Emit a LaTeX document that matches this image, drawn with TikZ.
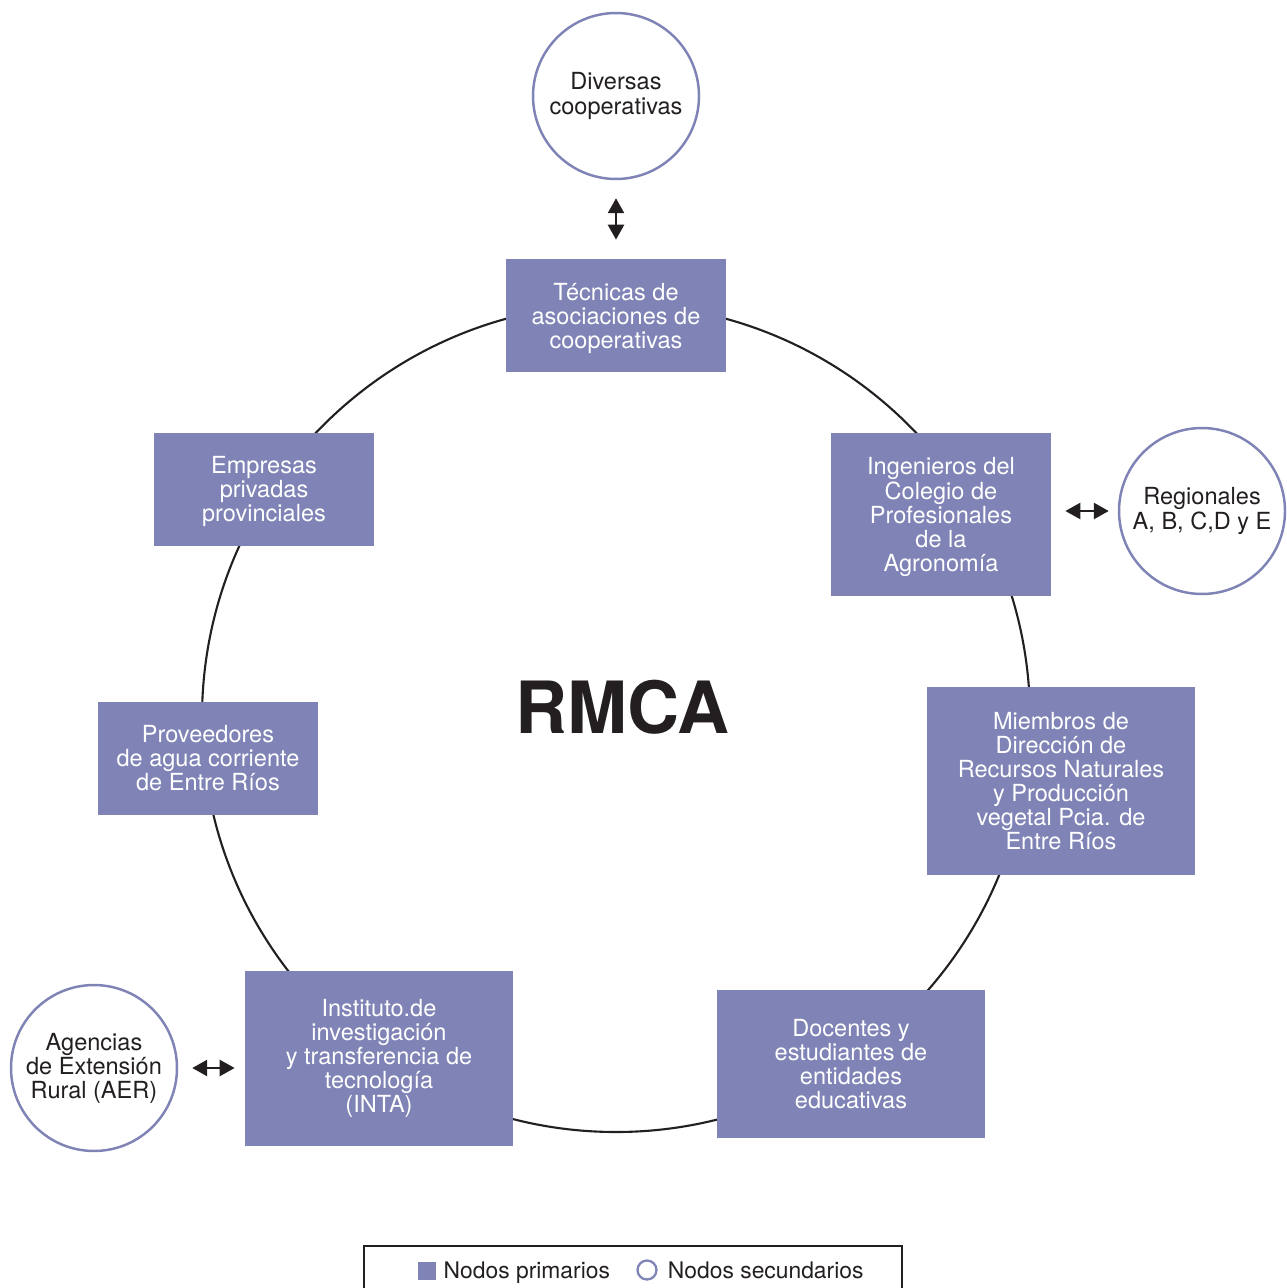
\documentclass[tikz,border=0pt]{standalone}
\usepackage{fontspec}
\setmainfont{TeX Gyre Heros}
\usetikzlibrary{arrows.meta,positioning}
\definecolor{lila}{HTML}{7F83B5}
\definecolor{tinta}{HTML}{231F20}
\tikzset{>={Triangle[length=8.5pt,width=9pt]}}
\tikzset{
  primario/.style={fill=lila,text=white,align=center,inner sep=0pt,
    font=\fontsize{13.4}{13.7}\selectfont},
  secundario/.style={circle,draw=lila,line width=1.4pt,fill=white,text=tinta,
    align=center,minimum size=3.32cm,inner sep=0pt,
    font=\fontsize{13.4}{13.7}\selectfont},
  flecha/.style={<->,line width=1.6pt,draw=tinta},
  leyenda/.style={text=tinta,inner sep=0pt,font=\fontsize{13}{14}\selectfont}
}

\begin{document}
\begin{tikzpicture}[x=0.02cm,y=-0.02cm]
\useasboundingbox (0,0) rectangle (1286,1288);
% anillo
\draw[line width=1.2pt,tinta] (616,718) circle [radius=414];
\node[text=tinta,font=\fontsize{41}{41}\selectfont\bfseries] (rmca) at (622,707) {RMCA};
% nodos primarios
\node[primario,minimum width=4.4cm,minimum height=2.26cm,text depth=-3pt] (tecnicas) at (616,315.5) {Técnicas de\\asociaciones de\\cooperativas};
\node[primario,minimum width=4.4cm,minimum height=3.26cm,text depth=-0.5pt] (ingenieros) at (941,514.5) {Ingenieros del\\Colegio de\\Profesionales\\de la\\Agronomía};
\node[primario,minimum width=5.36cm,minimum height=3.76cm,text depth=-3pt] (miembros) at (1061,781) {Miembros de\\Dirección de\\Recursos Naturales\\y Producción\\vegetal Pcia. de\\Entre Ríos};
\node[primario,minimum width=5.36cm,minimum height=2.96cm] (docentes) at (851,1064) {Docentes y\\estudiantes de\\entidades\\educativas};
\node[primario,minimum width=5.36cm,minimum height=3.5cm] (inta) at (379,1058.5) {Instituto.de\\investigación\\y transferencia de\\tecnología\\(INTA)};
\node[primario,minimum width=4.4cm,minimum height=2.26cm] (proveedores) at (208,758.5) {Proveedores\\de agua corriente\\de Entre Ríos};
\node[primario,minimum width=4.4cm,minimum height=2.26cm,text depth=0.5pt] (empresas) at (264,489.5) {Empresas\\privadas\\provinciales};
% nodos secundarios
\node[secundario] (diversas) at (616,96) {Diversas\\cooperativas};
\node[secundario] (regionales) at (1202,511) {Regionales\\A, B, C,D y E};
\node[secundario] (agencias) at (94,1068) {Agencias\\de Extensión\\Rural (AER)};
% flechas
\draw[flecha,shorten <=0.36cm,shorten >=0.38cm] (diversas) -- (tecnicas);
\draw[flecha,shorten <=0.28cm,shorten >=0.18cm] (ingenieros.east |- regionales) -- (regionales);
\draw[flecha,shorten <=0.28cm,shorten >=0.2cm] (agencias) -- (agencias -| inta.west);
% leyenda
\draw[line width=1pt,tinta] (364,1246) rectangle (902,1310);
\node[fill=lila,minimum size=0.36cm,inner sep=0pt] (cuadro) at (427,1270.5) {};
\node[leyenda,right=0.14cm of cuadro,yshift=-1pt] (primarios) {Nodos primarios};
\node[circle,draw=lila,line width=1.3pt,minimum size=0.38cm,inner sep=0pt] (circulo) at (647,1270) {};
\node[leyenda,right=0.2cm of circulo] (secundarios) {Nodos secundarios};
\end{tikzpicture}
\end{document}
